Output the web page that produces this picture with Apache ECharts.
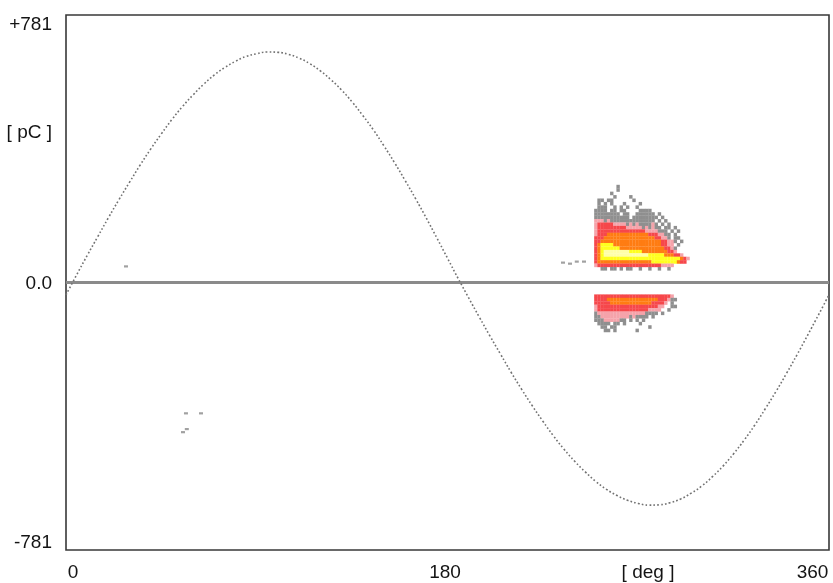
<!DOCTYPE html>
<html>
<head>
<meta charset="utf-8">
<script src="https://cdn.jsdelivr.net/npm/echarts@6/dist/echarts.min.js"></script>
<style>
html,body{margin:0;padding:0;background:#fff;}
#chart{width:833px;height:583px;}
</style>
</head>
<body>
<div id="chart"></div>
<script>
// ---- axis ticks ----
const xTicks = [0, 180, 360];
const xTickLabels = ['0', '180', '360'];
const yTicks = [-781, 0, 781];
const yTickLabels = ['-781', '0.0', '+781'];
const xUnit = '[ deg ]';
const yUnit = '[ pC ]';

// ---- reference sine (read every 5 deg) ----
const sinePhase = [0,5,10,15,20,25,30,35,40,45,50,55,60,65,70,75,80,85,90,95,100,105,110,115,120,125,130,135,140,145,150,155,160,165,170,175,180,185,190,195,200,205,210,215,220,225,230,235,240,245,250,255,260,265,270,275,280,285,290,295,300,305,310,315,320,325,330,335,340,345,350,355,360];
const sineCharge = [-36,22,79,134,189,242,293,343,390,434,476,514,548,579,606,628,646,660,668,673,672,666,655,639,618,592,562,527,488,446,399,350,298,244,188,130,71,12,-45,-101,-156,-209,-262,-312,-360,-405,-448,-487,-522,-553,-581,-604,-622,-636,-645,-650,-649,-643,-632,-615,-594,-567,-536,-500,-460,-416,-368,-318,-265,-210,-153,-95,-36];

// ---- isolated pulses ----
const isoPhase  = [28.3, 56.6, 63.7, 55.2, 57.0, 234.5, 237.8, 241.0, 244.4];
const isoCharge = [47, -382, -382, -437, -428, 58, 55, 61, 61];

// ---- PD cluster cells: level per column (0 none,1 grey,2 pink,3 red,4 orange,5 yellow,6 pale yellow) ----
const cellPhaseStart = 250;
const cellPhaseStep = 1.5;
const posRowCharge = [280,270,260,250,240,230,220,210,200,190,180,170,160,150,140,130,120,110,100,90,80,70,60,50,40];
const posRows = [
  '0000000100000000000000000000000',
  '0000000100000000000000000000000',
  '0000010000000000000000000000000',
  '0000001000010000000000000000000',
  '0110110000001000000000000000000',
  '0101010001000010000000000000000',
  '0111001010100100000000000000000',
  '1111011011000011110000000000000',
  '1111111101100111111010000000000',
  '1111111111101111111101000000000',
  '2221211111111111111010100000000',
  '2333332222121211112101010000000',
  '2333333333222221212110110100000',
  '2333333333333333222211101010000',
  '2333444444444444433322110100000',
  '3334444444444444444332210110000',
  '3344444444444444444443322101000',
  '3455554444444444444443322010000',
  '3455555544444444444444332100000',
  '3456666666655554444444433200000',
  '3456666666666666655555444332000',
  '3455555555555555555555555554320',
  '3444444444444444445555555543300',
  '2333333333333333333332222000000',
  '0011011010110010010010010000000'
];
const negRowCharge = [-40,-50,-60,-70,-80,-90,-100,-110,-120,-130,-140];
const negRows = [
  '3333333333333333333333332000000',
  '3333444444444444444433321100000',
  '3333344444444444443333201000000',
  '2333333333333333333322001100000',
  '2333333333333333322220010000000',
  '1222222222222222111101000000000',
  '1122222222212111101000000000000',
  '1112222211010101000000000000000',
  '0111101101000010000000000000000',
  '0011011000000000010000000000000',
  '0001101000000100000000000000000'
];
const levelColors = ['#ffffff','#8f8f8f','#f5a3aa','#f6474b','#ff7c12','#ffff1e','#ffffa8'];

// ---- build series data ----
const sineData = sinePhase.map((p, i) => [p, sineCharge[i]]);
const isoData = isoPhase.map((p, i) => [p, isoCharge[i]]);
const cellData = [];
function addRows(rows, charges) {
  rows.forEach((row, r) => {
    for (let c = 0; c < row.length; c++) {
      const lv = +row[c];
      if (lv > 0) cellData.push([cellPhaseStart + c * cellPhaseStep, charges[r], lv]);
    }
  });
}
addRows(posRows, posRowCharge);
addRows(negRows, negRowCharge);

const font = '"Liberation Sans", Arial, sans-serif';
const chart = echarts.init(document.getElementById('chart'), null, {renderer: 'canvas'});
chart.setOption({
  animation: false,
  backgroundColor: '#ffffff',
  grid: {left: 66, right: 4, top: 15, bottom: 33, show: true, borderColor: '#383838', borderWidth: 1.6, backgroundColor: '#ffffff'},
  xAxis: {
    type: 'value', min: xTicks[0], max: xTicks[2], interval: xTicks[1] - xTicks[0],
    axisLine: {show: false}, axisTick: {show: false}, splitLine: {show: false},
    axisLabel: {
      showMinLabel: true, showMaxLabel: true, margin: 13,
      color: '#141414', fontFamily: font, fontSize: 19,
      formatter: v => {
        const i = xTicks.indexOf(v);
        return '{t' + i + '|' + xTickLabels[i] + '}';
      },
      rich: {
        t0: {fontFamily: font, fontSize: 19, color: '#141414', padding: [0, 0, 0, 14]},
        t1: {fontFamily: font, fontSize: 19, color: '#141414', padding: [0, 5, 0, 0]},
        t2: {fontFamily: font, fontSize: 19, color: '#141414', padding: [0, 33, 0, 0]}
      }
    }
  },
  yAxis: {
    type: 'value', min: yTicks[0], max: yTicks[2], interval: yTicks[2],
    axisLine: {show: false}, axisTick: {show: false}, splitLine: {show: false},
    axisLabel: {
      showMinLabel: true, showMaxLabel: true, margin: 14,
      color: '#141414', fontFamily: font, fontSize: 19,
      formatter: v => {
        const i = yTicks.indexOf(v);
        return '{t' + i + '|' + yTickLabels[i] + '}';
      },
      rich: {
        t0: {fontFamily: font, fontSize: 19, color: '#141414', padding: [0, 0, 15, 0]},
        t1: {fontFamily: font, fontSize: 19, color: '#141414', padding: [2, 0, 0, 0]},
        t2: {fontFamily: font, fontSize: 19, color: '#141414', padding: [20, 0, 0, 0]}
      }
    }
  },
  graphic: [
    {type: 'text', x: 52, y: 133, style: {text: yUnit, fill: '#141414', font: '19px ' + font, textAlign: 'right', textVerticalAlign: 'middle'}},
    {type: 'text', x: 648, y: 573, style: {text: xUnit, fill: '#141414', font: '19px ' + font, textAlign: 'center', textVerticalAlign: 'middle'}}
  ],
  visualMap: {
    type: 'piecewise', show: false, dimension: 2, seriesIndex: 3,
    pieces: [1,2,3,4,5,6].map(l => ({value: l, color: levelColors[l]}))
  },
  series: [
    {
      type: 'line', data: [[xTicks[0], 0], [xTicks[2], 0]], symbol: 'none', silent: true,
      lineStyle: {color: '#8a8a8a', width: 3}, z: 2
    },
    {
      type: 'line', data: sineData, smooth: true, symbol: 'none', silent: true,
      lineStyle: {color: '#727272', width: 1.6, type: [1.7, 2.2]}, z: 3
    },
    {
      type: 'scatter', data: isoData, symbol: 'rect', symbolSize: [4, 2.2], silent: true,
      itemStyle: {color: '#8a8a8a'}, z: 4
    },
    {
      type: 'scatter', data: cellData, symbol: 'rect', symbolSize: [3.4, 3.6], silent: true, z: 5,
      itemStyle: {opacity: 1}
    }
  ]
});
</script>
</body>
</html>
